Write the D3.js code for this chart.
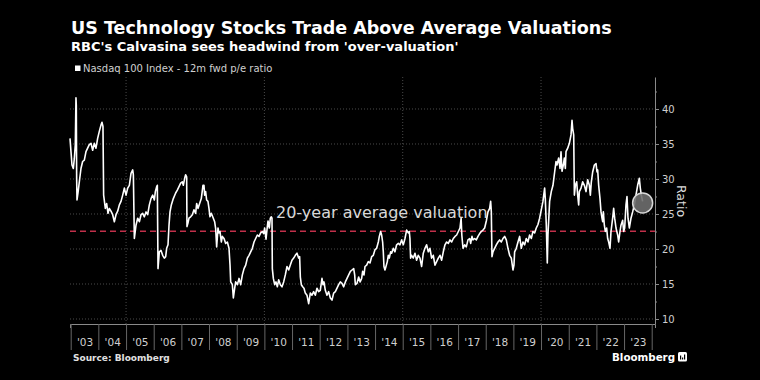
<!DOCTYPE html>
<html>
<head>
<meta charset="utf-8">
<script src="https://cdn.jsdelivr.net/npm/d3@7"></script>
<style>
  html, body { margin: 0; padding: 0; background: #000; }
  svg { display: block; font-family: "DejaVu Sans", sans-serif; }
</style>
</head>
<body>
<svg id="chart" width="760" height="380"></svg>
<script>
// ---- data (decimal year, Nasdaq 100 12m fwd P/E) ----
const years = [
  2002.975,2003.011,2003.047,2003.095,2003.131,2003.167,2003.191,2003.203,2003.216,2003.228,2003.264,2003.312,2003.372,2003.432,2003.493,2003.553,2003.613,2003.673,2003.734,2003.794,2003.854,2003.914,2003.975,
  2004.035,2004.095,2004.131,2004.167,2004.191,2004.252,2004.300,2004.348,2004.396,2004.456,2004.517,2004.577,2004.637,2004.697,2004.758,2004.818,2004.878,2004.938,2004.999,
  2005.059,2005.119,2005.179,2005.240,2005.264,2005.300,2005.360,2005.420,2005.481,2005.541,2005.601,2005.661,2005.722,2005.782,2005.842,2005.902,2005.963,
  2006.023,2006.059,2006.107,2006.131,2006.155,2006.203,2006.264,2006.324,2006.384,2006.432,2006.468,2006.517,2006.553,2006.589,2006.637,2006.709,2006.794,2006.854,2006.914,2006.974,
  2007.035,2007.071,2007.119,2007.155,2007.191,2007.203,2007.239,2007.276,2007.336,2007.396,2007.456,2007.517,2007.553,2007.601,2007.661,2007.721,2007.782,2007.818,2007.842,2007.878,2007.914,2007.962,2007.999,
  2008.035,2008.083,2008.155,2008.203,2008.240,2008.276,2008.324,2008.360,2008.396,2008.444,2008.481,2008.541,2008.601,2008.661,2008.721,2008.758,2008.782,2008.842,2008.878,2008.926,2008.962,
  2009.023,2009.083,2009.143,2009.203,2009.264,2009.324,2009.384,2009.444,2009.504,2009.565,2009.625,2009.685,2009.745,2009.806,2009.866,2009.926,2009.974,
  2010.010,2010.059,2010.095,2010.131,2010.179,2010.215,2010.251,2010.275,2010.287,2010.324,2010.372,2010.420,2010.468,2010.516,2010.577,2010.637,2010.697,2010.757,2010.818,2010.878,2010.938,2010.998,
  2011.059,2011.119,2011.179,2011.239,2011.275,2011.300,2011.336,2011.384,2011.432,2011.480,2011.540,2011.601,2011.661,2011.721,2011.781,2011.842,2011.902,2011.962,
  2012.022,2012.083,2012.119,2012.155,2012.203,2012.263,2012.324,2012.384,2012.444,2012.504,2012.565,2012.625,2012.685,2012.745,2012.805,2012.866,2012.926,2012.986,
  2013.046,2013.107,2013.167,2013.227,2013.263,2013.287,2013.347,2013.407,2013.460,2013.515,2013.551,2013.600,2013.636,2013.696,2013.756,2013.816,2013.877,2013.937,2013.997,
  2014.057,2014.118,2014.154,2014.202,2014.238,2014.274,2014.298,2014.322,2014.359,2014.395,2014.443,2014.479,2014.515,2014.563,2014.600,2014.660,2014.720,2014.780,2014.841,2014.901,2014.961,
  2015.021,2015.082,2015.142,2015.202,2015.238,2015.262,2015.286,2015.322,2015.383,2015.443,2015.503,2015.563,2015.624,2015.684,2015.744,2015.804,2015.864,2015.925,2015.985,
  2016.045,2016.106,2016.166,2016.226,2016.286,2016.347,2016.407,2016.467,2016.527,2016.587,2016.648,2016.708,2016.768,2016.828,2016.889,2016.949,
  2017.009,2017.069,2017.110,2017.135,2017.178,2017.238,2017.298,2017.358,2017.419,2017.455,2017.503,2017.539,2017.599,2017.660,2017.720,2017.780,2017.840,2017.901,2017.961,
  2018.021,2018.081,2018.142,2018.178,2018.202,2018.226,2018.262,2018.322,2018.383,2018.443,2018.503,2018.563,2018.623,2018.684,2018.744,2018.804,2018.864,2018.925,2018.985,
  2019.021,2019.045,2019.105,2019.166,2019.226,2019.286,2019.346,2019.407,2019.467,2019.527,2019.587,2019.648,2019.708,2019.768,2019.828,2019.889,2019.949,
  2020.009,2020.069,2020.130,2020.154,2020.190,2020.226,2020.250,2020.310,2020.370,2020.431,2020.491,2020.540,2020.576,2020.636,2020.685,2020.721,2020.757,2020.805,2020.841,2020.877,2020.901,2020.962,
  2021.022,2021.082,2021.118,2021.142,2021.179,2021.203,2021.239,2021.287,2021.323,2021.359,2021.383,2021.444,2021.504,2021.564,2021.624,2021.685,2021.745,2021.781,2021.817,2021.865,2021.926,2021.986,
  2022.022,2022.046,2022.082,2022.130,2022.167,2022.203,2022.227,2022.251,2022.287,2022.323,2022.371,2022.407,2022.444,2022.492,2022.528,2022.588,2022.624,2022.661,2022.709,2022.769,2022.805,2022.853,2022.889,2022.950,2022.986,
  2023.022,2023.070,2023.106,2023.143,2023.191,2023.251,2023.311,2023.371,2023.431,2023.492,2023.552,2023.588,2023.624,2023.672
];
const ratio = [
  35.8,33.9,32.0,31.5,32.9,34.9,41.6,40.5,30.0,27.0,28.0,29.6,31.5,32.5,32.7,33.9,34.4,34.9,35.1,34.1,35.1,34.4,35.8,
  36.8,37.7,38.1,37.5,27.7,25.8,26.5,25.1,25.8,25.4,24.9,23.9,24.9,25.4,26.3,26.8,27.7,28.7,27.7,
  28.7,29.1,30.8,31.3,30.6,21.5,23.4,24.4,23.9,24.9,25.1,24.6,25.3,24.9,26.3,27.2,27.7,
  27.0,28.2,28.9,29.1,17.2,19.6,19.8,19.1,18.7,18.9,20.1,20.6,23.4,25.3,26.3,27.2,28.0,28.4,28.9,29.4,
  29.6,29.1,30.1,30.6,30.3,23.2,23.7,24.4,24.6,24.9,25.6,25.1,26.5,25.8,26.5,27.2,29.1,29.1,27.7,28.2,27.0,26.8,25.8,
  24.6,25.1,24.4,23.9,22.9,20.3,23.0,22.3,22.5,21.0,21.8,21.5,20.8,21.0,20.1,17.7,15.3,14.9,13.0,14.4,15.3,
  14.9,15.8,14.9,16.3,17.2,17.7,18.7,19.1,19.6,20.1,21.0,21.5,22.0,21.8,22.3,22.5,22.2,
  23.0,21.4,22.8,24.0,23.0,24.4,24.6,24.4,17.2,15.8,14.9,15.3,14.6,15.6,14.9,14.6,15.3,16.3,17.5,17.0,17.7,18.4,
  18.7,19.1,19.4,18.7,18.9,16.0,14.9,14.6,14.4,13.7,13.4,12.2,13.7,13.4,13.9,13.4,14.4,13.9,
  14.1,15.8,14.9,15.3,14.1,13.4,13.9,13.0,12.7,13.7,13.9,14.4,14.9,15.3,15.1,14.6,15.3,15.8,
  16.3,16.8,17.0,17.2,16.3,14.9,15.1,16.0,15.3,15.8,16.8,16.3,17.5,17.7,18.2,18.0,18.9,19.1,19.9,
  20.1,21.0,21.8,22.5,22.0,21.0,19.6,17.5,17.0,17.5,18.2,19.1,18.7,19.6,19.4,20.1,19.6,20.6,20.8,20.6,21.3,
  20.6,21.5,22.7,22.3,22.5,21.5,18.7,19.1,18.7,19.4,18.4,19.1,18.7,17.5,19.4,20.1,20.6,19.6,20.1,
  18.7,19.1,17.7,18.2,18.7,19.1,18.4,19.6,20.6,21.0,20.8,21.3,21.0,21.5,21.8,22.0,
  22.5,23.0,24.4,22.0,20.1,20.6,20.3,21.3,21.5,20.8,21.8,21.3,21.5,21.3,21.8,22.2,22.5,22.7,23.0,
  24.0,25.3,25.8,26.8,25.3,18.9,19.6,20.1,20.6,21.0,21.3,21.0,21.5,21.8,21.3,20.1,19.1,18.7,17.0,
  17.7,19.6,20.1,21.0,21.8,20.1,21.0,20.6,21.5,21.0,22.0,21.5,22.5,22.3,23.0,23.5,24.4,
  25.6,26.8,28.7,27.2,23.4,18.0,22.0,26.8,28.2,29.1,31.0,32.5,32.0,33.0,31.5,33.9,31.1,32.0,33.0,31.5,33.9,34.4,
  35.1,36.3,38.4,37.2,36.3,27.7,29.1,29.6,27.7,26.3,28.2,28.7,29.6,29.1,28.2,29.9,29.1,27.7,29.6,31.0,32.0,32.2,
  31.0,31.3,29.1,27.2,25.3,24.4,23.9,25.3,23.4,22.5,23.0,21.5,21.0,20.1,22.5,24.4,25.8,24.4,23.0,22.0,21.0,22.5,23.4,24.1,22.5,
  23.0,26.3,27.5,24.4,23.0,24.4,25.3,26.3,27.7,29.1,30.1,28.7,27.7,26.8
];
const average = 22.55;
const yTicks = [10, 15, 20, 25, 30, 35, 40];
const yMinorTicks = [12.5, 17.5, 22.5, 27.5, 32.5, 37.5, 42.5];
const yearStarts = d3.range(2003, 2025);
const yearLabels = d3.range(2003, 2024);
const gridYears = [2005, 2010, 2015, 2020];

const titleText = "US Technology Stocks Trade Above Average Valuations";
const subtitleText = "RBC's Calvasina sees headwind from 'over-valuation'";
const legendLabel = "Nasdaq 100 Index - 12m fwd p/e ratio";
const annotationText = "20-year average valuation";

// ---- helpers ----
function toDate(yv) {
  const yr = Math.floor(yv);
  const start = new Date(yr, 0, 1).getTime();
  const end = new Date(yr + 1, 0, 1).getTime();
  return new Date(start + (yv - yr) * (end - start));
}
const data = years.map((yv, i) => ({ date: toDate(yv), value: ratio[i] }));

const svg = d3.select("#chart");
svg.append("rect").attr("width", 760).attr("height", 380).attr("fill", "#000");

const pLeft = 70, pRight = 655, pTop = 77, pBottom = 324;
const x = d3.scaleTime()
  .domain([toDate(2002.975), toDate(2024.119)])
  .range([pLeft, pRight]);
const y = d3.scaleLinear()
  .domain([9.286, 44.571])
  .range([pBottom, pTop]);

// ---- gridlines ----
const grid = svg.append("g");
grid.selectAll("line.h").data(yTicks).join("line").attr("class", "h")
  .attr("x1", pLeft).attr("x2", pRight)
  .attr("y1", d => y(d)).attr("y2", d => y(d))
  .attr("stroke", "#4a4a4a").attr("stroke-width", 1)
  .attr("stroke-dasharray", "1,2");
grid.selectAll("line.v").data(gridYears).join("line").attr("class", "v")
  .attr("x1", d => x(toDate(d))).attr("x2", d => x(toDate(d)))
  .attr("y1", pTop).attr("y2", pBottom)
  .attr("stroke", "#4a4a4a").attr("stroke-width", 1)
  .attr("stroke-dasharray", "1,2");

// ---- average line ----
svg.append("line")
  .attr("x1", pLeft).attr("x2", pRight)
  .attr("y1", y(average)).attr("y2", y(average))
  .attr("stroke", "#c0304a").attr("stroke-width", 1.5)
  .attr("stroke-dasharray", "6,4");

svg.append("text")
  .attr("x", 276).attr("y", 218)
  .attr("fill", "#d8d8d8")
  .attr("font-size", 16)
  .text(annotationText);

// ---- series line ----
svg.append("path")
  .datum(data)
  .attr("fill", "none")
  .attr("stroke", "#fff")
  .attr("stroke-width", 1.6)
  .attr("stroke-linejoin", "round")
  .attr("d", d3.line().x(d => x(d.date)).y(d => y(d.value)));

const last = data[data.length - 1];
svg.append("circle")
  .attr("cx", x(last.date)).attr("cy", y(last.value) + 1.5)
  .attr("r", 10)
  .attr("fill", "#6e6e6e").attr("fill-opacity", 0.9)
  .attr("stroke", "#d8d8d8").attr("stroke-width", 1.5);

// ---- y axis (right) ----
const yAxis = svg.append("g")
  .attr("transform", `translate(${pRight},0)`)
  .call(d3.axisRight(y).tickValues(yTicks).tickSize(4).tickSizeOuter(0).tickPadding(3));
yAxis.select(".domain").attr("stroke", "#8a8a8a");
yAxis.selectAll(".tick line").attr("stroke", "#8a8a8a");
yAxis.selectAll(".tick text").attr("fill", "#cfcfcf").attr("font-size", 10)
  .attr("font-family", "DejaVu Sans, sans-serif");
const yMinor = svg.append("g")
  .attr("transform", `translate(${pRight},0)`)
  .call(d3.axisRight(y).tickValues(yMinorTicks).tickSize(2).tickSizeOuter(0).tickFormat(""));
yMinor.select(".domain").remove();
yMinor.selectAll(".tick line").attr("stroke", "#8a8a8a");

svg.append("text")
  .attr("transform", `translate(677,201) rotate(90)`)
  .attr("text-anchor", "middle")
  .attr("fill", "#dcdcdc")
  .attr("font-size", 12.5)
  .text("Ratio");

// ---- x axis ----
const xSep = svg.append("g")
  .attr("transform", `translate(0,${pBottom})`)
  .call(d3.axisBottom(x).tickValues(yearStarts.map(toDate)).tickSize(26).tickSizeOuter(4).tickFormat(""));
xSep.select(".domain").attr("stroke", "#8a8a8a");
xSep.selectAll(".tick line").attr("stroke", "#666");

const xLab = svg.append("g")
  .attr("transform", `translate(0,${pBottom})`)
  .call(d3.axisBottom(x).tickValues(yearLabels.map(yv => toDate(yv + 0.5))).tickSize(0).tickPadding(15)
    .tickFormat(d3.timeFormat("'%y")));
xLab.select(".domain").remove();
xLab.selectAll(".tick text").attr("fill", "#cfcfcf").attr("font-size", 10.5)
  .attr("font-family", "DejaVu Sans, sans-serif");

// ---- titles ----
svg.append("text").attr("x", 71).attr("y", 34)
  .attr("fill", "#fff").attr("font-weight", "bold").attr("font-size", 17.5)
  .text(titleText);
svg.append("text").attr("x", 71).attr("y", 51)
  .attr("fill", "#fff").attr("font-weight", "bold").attr("font-size", 13)
  .text(subtitleText);

svg.append("rect").attr("x", 75).attr("y", 65.5).attr("width", 5.5).attr("height", 5.5).attr("fill", "#fff");
svg.append("text").attr("x", 83).attr("y", 72)
  .attr("fill", "#d0d0d0").attr("font-size", 10)
  .text(legendLabel);

// ---- footer ----
svg.append("text").attr("x", 73).attr("y", 361)
  .attr("fill", "#e0e0e0").attr("font-weight", "bold").attr("font-size", 9)
  .text("Source: Bloomberg");

svg.append("text").attr("x", 612).attr("y", 361)
  .attr("fill", "#fff").attr("font-weight", "bold").attr("font-size", 10.3)
  .text("Bloomberg");
const logo = svg.append("g").attr("transform", "translate(678,352)");
logo.append("rect").attr("width", 9).attr("height", 9.5).attr("rx", 1.5).attr("fill", "#fff");
[[2, 4], [4, 2], [6, 5]].forEach(([bx, bh]) => {
  logo.append("rect").attr("x", bx).attr("y", 7.5 - bh).attr("width", 1.2).attr("height", bh).attr("fill", "#000");
});
</script>
</body>
</html>
